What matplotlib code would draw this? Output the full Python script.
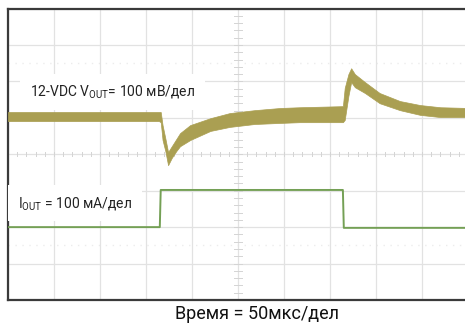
import numpy as np
import matplotlib
matplotlib.use("Agg")
import matplotlib.pyplot as plt

# scope screen: x in microseconds (50 us/div), y in screen divisions (0..8)
t_vout = [0, 164, 166, 168, 171, 174, 178, 183, 187, 198, 220, 241, 268, 296, 317,
          364, 366, 370, 373, 377, 388, 404, 426, 448, 470, 500]
vout_hi = [5.16, 5.16, 5.16, 4.80, 4.44, 4.06, 4.22, 4.42, 4.58, 4.80, 4.99, 5.13, 5.21,
           5.27, 5.29, 5.32, 5.82, 6.20, 6.36, 6.20, 5.98, 5.68, 5.46, 5.35, 5.29, 5.27]
vout_lo = [4.91, 4.91, 4.88, 4.39, 4.09, 3.70, 3.90, 4.09, 4.22, 4.39, 4.64, 4.75, 4.83,
           4.86, 4.88, 4.88, 4.94, 5.60, 5.98, 5.84, 5.68, 5.40, 5.21, 5.08, 5.02, 5.02]

t_iout = [0, 165, 166, 364, 365, 500]
iout = [2.00, 2.00, 3.02, 3.02, 1.98, 1.98]

vout_label = r"12-VDC V$_{\mathregular{OUT}}$= 100 мВ/дел"
iout_label = r"I$_{\mathregular{OUT}}$ = 100 мА/дел"
time_label = "Время = 50мкс/дел"

plt.rcParams['font.family'] = ['Roboto', 'DejaVu Sans']
plt.rcParams['mathtext.fontset'] = 'custom'

fig = plt.figure(figsize=(4.65, 3.27), dpi=100)
ax = fig.add_axes([8/465, 27/327, 460/465, 291.5/327])
ax.set_xlim(0, 500)
ax.set_ylim(0, 8)

ax.set_xticks(np.arange(0, 501, 50))
ax.set_yticks(np.arange(0, 9, 1))
ax.tick_params(length=0, labelbottom=False, labelleft=False)
ax.grid(color='#e2e2e2', lw=0.9)
ax.set_axisbelow(True)
for y in (1.5, 6.5):
    ax.axhline(y, color='#ececec', lw=1, ls=(0, (1, 4)), zorder=0)

# centre cross with minor ticks
for x in np.arange(0, 500, 10):
    ax.plot([x, x], [3.94, 4.06], color='#d4d4d4', lw=0.7, zorder=1)
for y in np.arange(0, 8, 0.2):
    ax.plot([246, 254], [y, y], color='#d4d4d4', lw=0.7, zorder=1)

for s in ('top', 'bottom', 'left'):
    ax.spines[s].set_color('#3a3a3a')
    ax.spines[s].set_linewidth(1.6)
ax.spines['right'].set_visible(False)

ax.fill_between(t_vout, vout_lo, vout_hi, color='#aa9f52', lw=0.5, ec='#aa9f52', zorder=3)
ax.plot(t_iout, iout, color='#74a055', lw=1.4, zorder=3)

ax.text(24, 5.60, vout_label, fontsize=10, color='#222222', va='baseline', ha='left',
        bbox=dict(fc='white', ec='none', pad=7), zorder=4)
ax.text(11, 2.55, iout_label, fontsize=10, color='#222222', va='baseline', ha='left',
        bbox=dict(fc='white', ec='none', pad=7), zorder=4)

fig.text(257/465, 1 - 319/327, time_label, fontsize=13, color='#111111',
         ha='center', va='baseline')

fig.savefig("out.png", dpi=100)
